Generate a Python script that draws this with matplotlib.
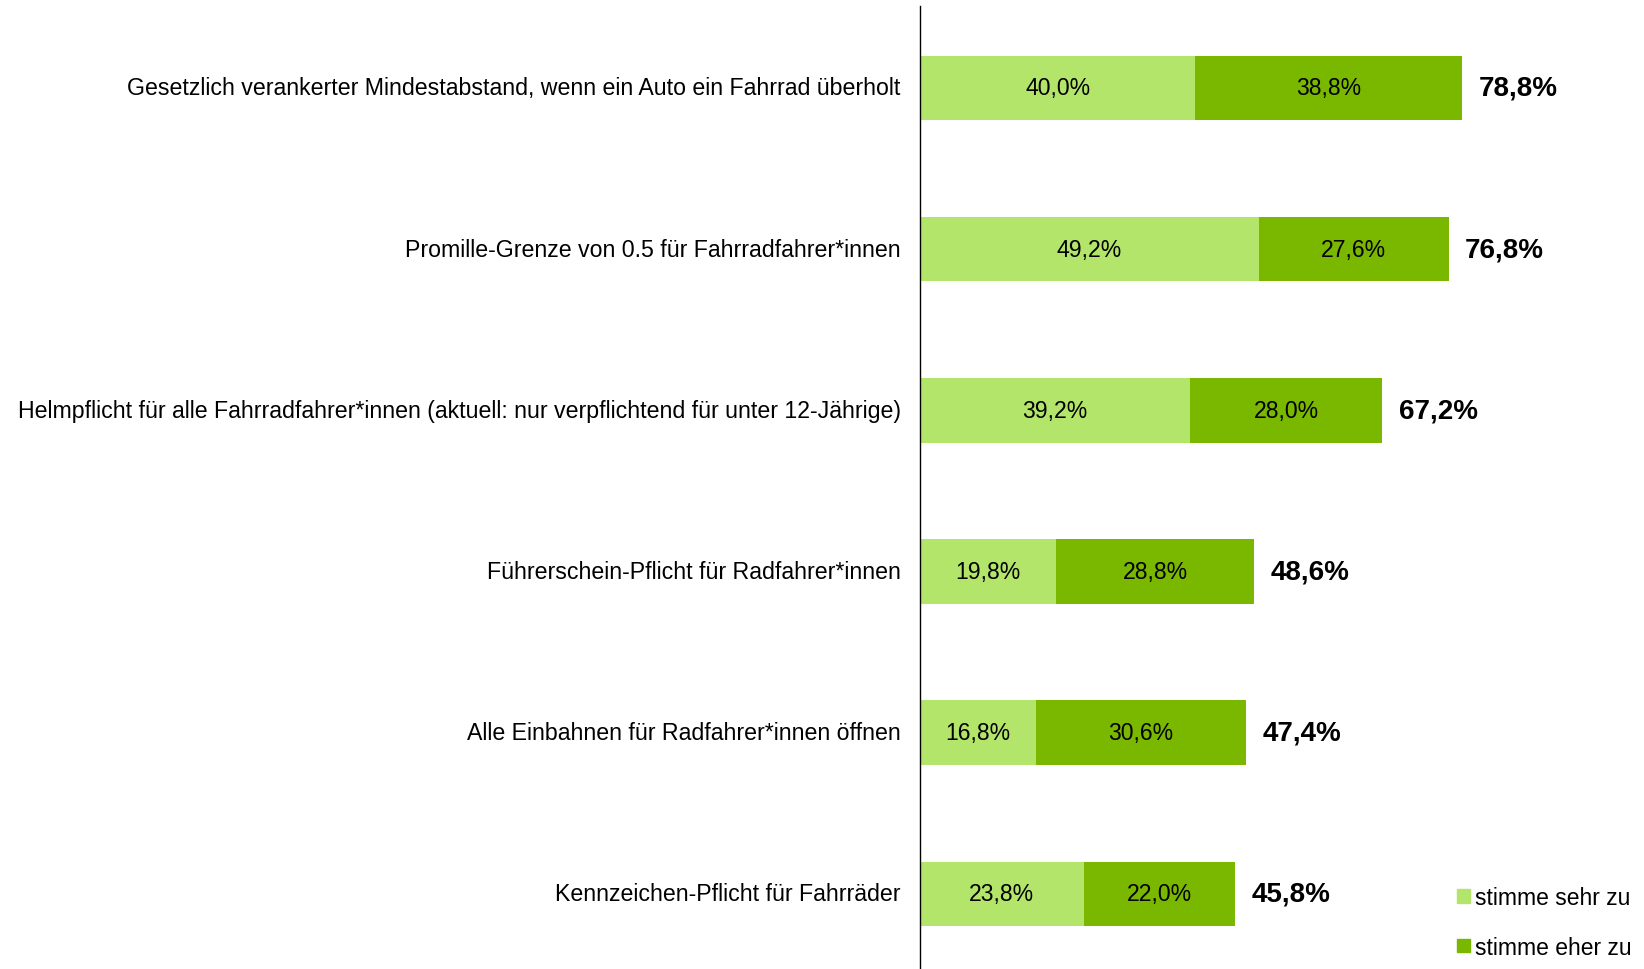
import matplotlib.pyplot as plt
from matplotlib.patches import Patch

plt.rcParams['font.family'] = ['Liberation Sans', 'DejaVu Sans']

categories = [
    "Gesetzlich verankerter Mindestabstand, wenn ein Auto ein Fahrrad überholt",
    "Promille-Grenze von 0.5 für Fahrradfahrer*innen",
    "Helmpflicht für alle Fahrradfahrer*innen (aktuell: nur verpflichtend für unter 12-Jährige)",
    "Führerschein-Pflicht für Radfahrer*innen",
    "Alle Einbahnen für Radfahrer*innen öffnen",
    "Kennzeichen-Pflicht für Fahrräder",
]
sehr = [40.0, 49.2, 39.2, 19.8, 16.8, 23.8]
eher = [38.8, 27.6, 28.0, 28.8, 30.6, 22.0]
legend_labels = ["stimme sehr zu", "stimme eher zu"]

c_light = '#b3e56b'
c_dark = '#7ab800'

def fmt(v):
    return f"{v:.1f}%".replace('.', ',')

fig = plt.figure(figsize=(16.44, 9.70), dpi=100)
ax = fig.add_axes([920 / 1644, 0, 1 - 920 / 1644, 1 - 7 / 970])

y = list(range(len(categories)))
ax.barh(y, sehr, height=0.4, color=c_light)
ax.barh(y, eher, left=sehr, height=0.4, color=c_dark)

for i in y:
    ax.text(sehr[i] / 2, i, fmt(sehr[i]), ha='center', va='center', fontsize=16.6)
    ax.text(sehr[i] + eher[i] / 2, i, fmt(eher[i]), ha='center', va='center', fontsize=16.6)
    tot = sehr[i] + eher[i]
    ax.text(tot + 2.4, i, fmt(tot), ha='left', va='center', fontsize=20, fontweight='bold')

ax.set_xlim(0, 105.2)
ax.set_ylim(5.466, -0.508)
ax.set_yticks(y)
ax.set_yticklabels(categories, fontsize=16.65, va='center')
ax.tick_params(axis='y', length=0, pad=14)
ax.set_xticks([])
for s in ['top', 'right', 'bottom']:
    ax.spines[s].set_visible(False)
ax.spines['left'].set_linewidth(1)

handles = [Patch(color=c_light), Patch(color=c_dark)]
fig.legend(handles, legend_labels, loc='lower left', bbox_to_anchor=(1446 / 1644, -1 / 970),
           frameon=False, fontsize=16.5, handlelength=0.55, handleheight=0.55,
           handletextpad=0.2, labelspacing=1.15, borderpad=0)

fig.savefig("out.png", dpi=100)
